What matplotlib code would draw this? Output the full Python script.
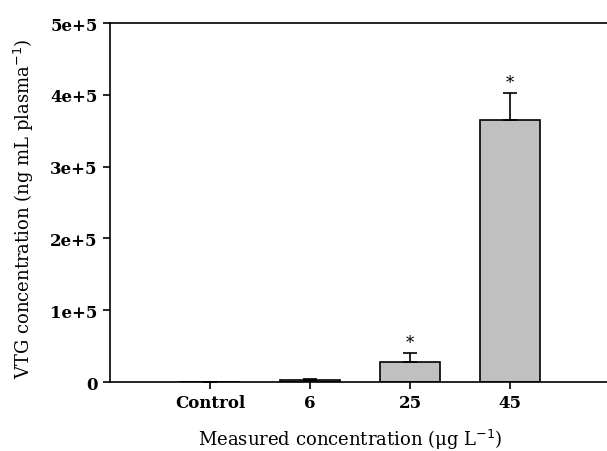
import numpy as np
import matplotlib
matplotlib.use("Agg")
import matplotlib.pyplot as plt

categories = ["Control", "6", "25", "45"]
means = [0, 3000, 27500, 365000]
errors = [0, 1800, 12500, 37500]
significant = [False, False, True, True]
yticks = [0, 100000, 200000, 300000, 400000, 500000]
yticklabels = ["0", "1e+5", "2e+5", "3e+5", "4e+5", "5e+5"]

plt.rcParams["font.family"] = "DejaVu Serif"

fig = plt.figure(figsize=(6.07, 4.52), dpi=100)
ax = fig.add_axes([110 / 607, 1 - 383 / 452, 497 / 607, 359 / 452])

x = np.arange(1, len(categories) + 1)
ax.bar(x, means, width=0.6, color="#c0c0c0", edgecolor="black", linewidth=1.2, zorder=2)
ax.errorbar(x, means, yerr=[np.zeros(len(errors)), errors], fmt="none",
            ecolor="black", elinewidth=1.2, capsize=5, capthick=1.2, zorder=3)
for xi, m, e, s in zip(x, means, errors, significant):
    if s:
        ax.text(xi, m + e + 2500, "*", ha="center", va="bottom", fontsize=12)

ax.set_xlim(0, 4.97)
ax.set_ylim(0, 500000)
ax.set_xticks(x)
ax.set_xticklabels(categories, fontweight="bold", fontsize=12)
ax.set_yticks(yticks)
ax.set_yticklabels(yticklabels, fontweight="bold", fontsize=12)
ax.tick_params(direction="out", length=5, width=1.2, pad=4)
ax.spines["right"].set_visible(False)
for s in ["left", "bottom", "top"]:
    ax.spines[s].set_linewidth(1.2)

ax.set_xlabel(r"Measured concentration ($\mathregular{\mu}$g L$^{-1}$)", fontsize=13)
ax.set_ylabel(r"VTG concentration (ng mL plasma$^{-1}$)", fontsize=13)
ax.xaxis.set_label_coords(0.483, -0.16)
ax.xaxis.label.set_va("center")
ax.yaxis.set_label_coords(-0.173, 0.485)
ax.yaxis.label.set_va("center")

fig.savefig("out.png", dpi=100)
